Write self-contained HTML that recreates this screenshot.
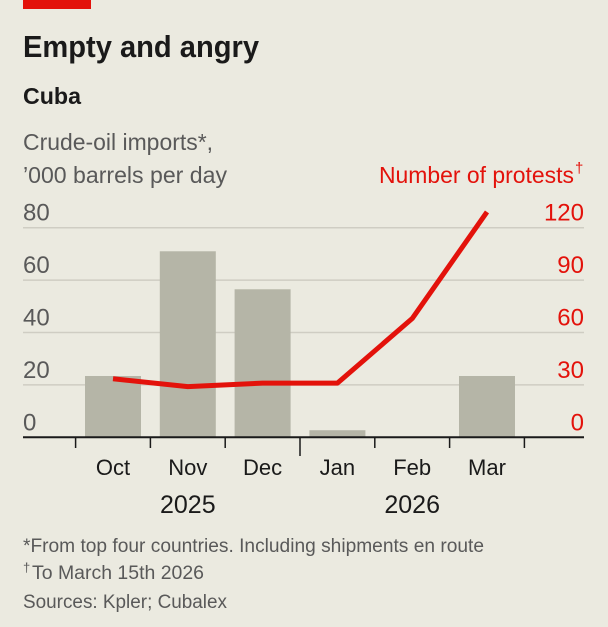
<!DOCTYPE html>
<html><head><meta charset="utf-8">
<style>
html,body{margin:0;padding:0;background:#ebeae0;}
svg{display:block;}
text{font-family:"Liberation Sans",sans-serif;}
</style></head>
<body>
<svg width="608" height="627" viewBox="0 0 608 627">
<rect x="0" y="0" width="608" height="627" fill="#ebeae0"/>
<rect x="23" y="0" width="68" height="9" fill="#e3120b"/>
<text x="23" y="57" font-size="31" font-weight="bold" fill="#1a1a1a" textLength="236" lengthAdjust="spacingAndGlyphs">Empty and angry</text>
<text x="23" y="104" font-size="23" font-weight="bold" fill="#1a1a1a" textLength="58" lengthAdjust="spacingAndGlyphs">Cuba</text>
<text x="23" y="150" font-size="23" fill="#595959" textLength="190" lengthAdjust="spacingAndGlyphs">Crude-oil imports*,</text>
<text x="23" y="183" font-size="23" fill="#595959" textLength="204" lengthAdjust="spacingAndGlyphs">’000 barrels per day</text>
<text x="379" y="183" font-size="23" fill="#e3120b" textLength="195" lengthAdjust="spacingAndGlyphs">Number of protests</text>
<text x="575" y="173" font-size="15" fill="#e3120b">†</text>
<g id="grid"></g>
<g id="bars"></g>
<g id="axis"></g>
<g id="line"></g>
<text x="23" y="552" font-size="19" fill="#595959" textLength="461" lengthAdjust="spacingAndGlyphs">*From top four countries. Including shipments en route</text>
<text x="23" y="572" font-size="13" fill="#595959">†</text>
<text x="32" y="579" font-size="19" fill="#595959" textLength="172" lengthAdjust="spacingAndGlyphs">To March 15th 2026</text>
<text x="23" y="608" font-size="19" fill="#595959" textLength="204" lengthAdjust="spacingAndGlyphs">Sources: Kpler; Cubalex</text>
</svg>
<script>
const categories = ["Oct","Nov","Dec","Jan","Feb","Mar"];
const imports = [23.4, 71, 56.5, 2.7, 0, 23.4];
const protests = [33.5, 29, 31, 31, 68, 129];
const leftTicks = [0,20,40,60,80];
const rightTicks = [0,30,60,90,120];
const years = ["2025","2026"];

const NS="http://www.w3.org/2000/svg";
const x0=23, x1=584, base=437.3, top80=227.7;
const band=74.8, firstTick=75.6;
const yL=v=>base-(v/80)*(base-top80);
const yR=v=>base-(v/120)*(base-top80);
const xc=i=>firstTick+band*(i+0.5);
function mk(tag,attrs,parent){const e=document.createElementNS(NS,tag);for(const k in attrs)e.setAttribute(k,attrs[k]);parent.appendChild(e);return e;}
const grid=document.getElementById('grid'),bars=document.getElementById('bars'),axis=document.getElementById('axis'),line=document.getElementById('line');
leftTicks.forEach((t,i)=>{
  if(t>0){const g=mk('line',{x1:x0,x2:x1,y1:yL(t),y2:yL(t),stroke:'#cfcdc3','stroke-width':1.5},grid);
  
  }
  const tl=mk('text',{x:x0,y:yL(t)-7,'font-size':24,fill:'#595959'},grid);tl.textContent=t;
  
  
  const tr=mk('text',{x:x1,y:yR(rightTicks[i])-7,'font-size':24,fill:'#e3120b','text-anchor':'end'},grid);tr.textContent=rightTicks[i];
  
  
});
categories.forEach((c,i)=>{
  const h=base-yL(imports[i]);
  if(h>0){const b=mk('rect',{x:xc(i)-28,y:yL(imports[i]),width:56,height:h,fill:'#b5b5a7'},bars);
  
  }
  const l=mk('text',{x:xc(i),y:475,'font-size':22,fill:'#1a1a1a','text-anchor':'middle'},axis);l.textContent=c;
  
  
});
const ax=mk('line',{x1:x0,x2:x1,y1:base,y2:base,stroke:'#1a1a1a','stroke-width':2},axis);


for(let i=0;i<=categories.length;i++){
  const tk=mk('line',{x1:firstTick+band*i,x2:firstTick+band*i,y1:base,y2:i===3?456:448,stroke:'#1a1a1a','stroke-width':1.5},axis);
  
  
}
years.forEach((y,i)=>{
  const t=mk('text',{x:firstTick+band*(1.5+3*i),y:513,'font-size':25,fill:'#1a1a1a','text-anchor':'middle'},axis);t.textContent=y;
  
  
});
const pts=protests.map((v,i)=>xc(i)+','+yR(v)).join(' ');
const pl=mk('polyline',{points:pts,fill:'none',stroke:'#e3120b','stroke-width':5,'stroke-linejoin':'round'},line);


</script>
</body></html>
